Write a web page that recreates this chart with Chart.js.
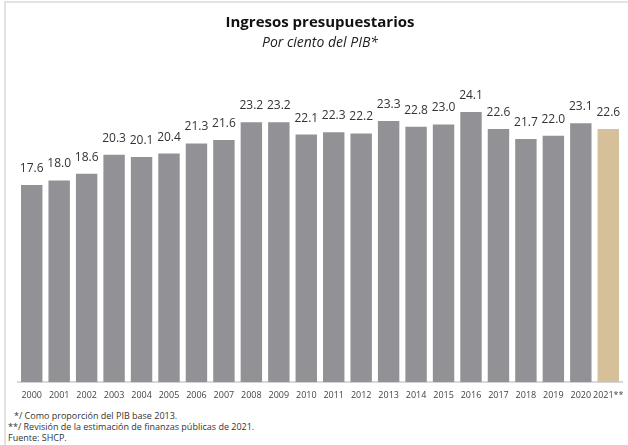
<!DOCTYPE html>
<html>
<head>
<meta charset="utf-8">
<script src="https://cdn.jsdelivr.net/npm/chart.js@4"></script>
<style>
  body { margin: 0; background: #fff; font-family: "Open Sans", sans-serif; }
  #frame { position: absolute; left: 4px; top: 1px; width: 700px; height: 500px;
           border-top: 2px solid #e2e2e2; border-left: 2px solid #e2e2e2; }
  #wrap { position: absolute; left: 0; top: 0; width: 628px; height: 403px; }
  .note { position: absolute; font-size: 9px; color: #333; white-space: nowrap; }
</style>
</head>
<body>
<div id="frame"></div>
<div id="wrap"><canvas id="ingresos"></canvas></div>
<div class="note" style="left:14px;top:409px">*/ Como proporción del PIB base 2013.</div>
<div class="note" style="left:8px;top:420px">**/ Revisión de la estimación de finanzas públicas de 2021.</div>
<div class="note" style="left:8px;top:431px">Fuente: SHCP.</div>
<script>
const years = ['2000', '2001', '2002', '2003', '2004', '2005', '2006', '2007', '2008', '2009', '2010',
  '2011', '2012', '2013', '2014', '2015', '2016', '2017', '2018', '2019', '2020', '2021**'];
const ingresos = [17.6, 18.0, 18.6, 20.3, 20.1, 20.4, 21.3, 21.6, 23.2, 23.2, 22.1,
  22.3, 22.2, 23.3, 22.8, 23.0, 24.1, 22.6, 21.7, 22.0, 23.1, 22.6];

const gray = '#929196';
const tan = '#d5c09a';
const barColors = years.map((y, i) => i === years.length - 1 ? tan : gray);

// simple value labels on top of each bar
const valueLabels = {
  id: 'valueLabels',
  afterDatasetsDraw(chart) {
    const ctx = chart.ctx;
    const meta = chart.getDatasetMeta(0);
    ctx.save();
    ctx.font = '12px "Open Sans"';
    ctx.fillStyle = '#333';
    ctx.textAlign = 'center';
    ctx.textBaseline = 'alphabetic';
    meta.data.forEach((bar, i) => {
      ctx.fillText(ingresos[i].toFixed(1), bar.x, bar.y - 13);
    });
    ctx.restore();
  }
};

const ctx = document.getElementById('ingresos');
new Chart(ctx, {
  type: 'bar',
  data: {
    labels: years,
    datasets: [{
      data: ingresos,
      backgroundColor: barColors,
      categoryPercentage: 0.78,
      barPercentage: 1.0
    }]
  },
  plugins: [valueLabels],
  options: {
    animation: false,
    responsive: true,
    maintainAspectRatio: false,
    layout: {
      padding: { top: 8, bottom: 2, left: 18, right: 6 }
    },
    plugins: {
      legend: { display: false },
      tooltip: { enabled: false },
      title: {
        display: true,
        text: 'Ingresos presupuestarios',
        color: '#111',
        font: { family: 'Open Sans', size: 15, weight: 'bold' },
        padding: { top: 6, bottom: 3 }
      },
      subtitle: {
        display: true,
        text: 'Por ciento del PIB*',
        color: '#222',
        font: { family: 'Open Sans', size: 14, style: 'italic' },
        padding: { bottom: 39 }
      }
    },
    scales: {
      y: {
        display: false,
        min: 0,
        max: 26
      },
      x: {
        grid: { display: false },
        border: { display: true, color: '#d8d8d8', width: 2 },
        ticks: {
          autoSkip: false,
          maxRotation: 0,
          color: '#444',
          padding: 0,
          font: { family: 'Open Sans', size: 9 }
        }
      }
    }
  }
});
</script>
</body>
</html>
